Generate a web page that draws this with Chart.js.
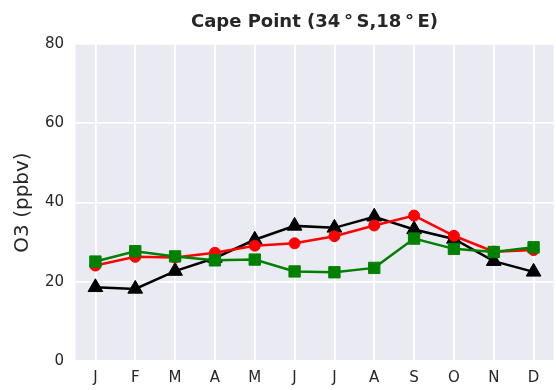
<!DOCTYPE html>
<html>
<head>
<meta charset="utf-8">
<script src="https://cdn.jsdelivr.net/npm/chart.js@4"></script>
<style>
  html, body { margin: 0; padding: 0; background: #ffffff; }
  #wrap { width: 556px; height: 390px; }
</style>
</head>
<body>
<div id="wrap"><canvas id="o3_chart" width="556" height="390"></canvas></div>
<script>
// monthly mean ozone at Cape Point, three records
const months = ["J", "F", "M", "A", "M", "J", "J", "A", "S", "O", "N", "D"];
const red_series = [24.1, 26.3, 26.1, 27.3, 29.1, 29.7, 31.5, 34.2, 36.7, 31.6, 27.6, 28.0];
const green_series = [25.1, 27.7, 26.4, 25.4, 25.6, 22.6, 22.4, 23.5, 30.9, 28.3, 27.5, 28.7];
const black_series = [18.6, 18.2, 22.7, 26.0, 30.6, 34.1, 33.6, 36.4, 33.2, 30.8, 25.2, 22.5];
const y_ticks = [0, 20, 40, 60, 80];
const chart_title = "Cape Point (34\u2009°\u2009S,18\u2009°\u2009E)";
const y_title = "O3 (ppbv)";

const text_color = "#262626";

// grey panel behind the grid, seaborn darkgrid look
const panel_plugin = {
    id: "panel",
    beforeDraw: function (chart) {
        let a = chart.chartArea;
        let ctx = chart.ctx;
        ctx.save();
        ctx.fillStyle = "#eaeaf2";
        ctx.fillRect(a.left, a.top, a.right - a.left, a.bottom - a.top);
        ctx.restore();
    },
    afterDraw: function (chart) {
        // title centred over the plot area, not the whole canvas
        let a = chart.chartArea;
        let ctx = chart.ctx;
        ctx.save();
        ctx.fillStyle = text_color;
        ctx.font = "bold 18px 'DejaVu Sans'";
        ctx.textAlign = "center";
        ctx.textBaseline = "alphabetic";
        ctx.fillText(chart_title, (a.left + a.right) / 2, 26.5);
        ctx.restore();
    }
};

function line_set(values, color, style, radius, order) {
    return {
        data: values,
        borderColor: color,
        backgroundColor: color,
        borderWidth: 2.5,
        pointStyle: style,
        pointRadius: radius,
        pointHoverRadius: radius,
        pointBorderWidth: 1,
        pointBorderColor: color,
        pointBackgroundColor: color,
        fill: false,
        tension: 0,
        order: order
    };
}

let data_set = [];
data_set.push(line_set(black_series, "#000000", "triangle", 8.5, 2));
data_set.push(line_set(red_series, "#ff0000", "circle", 5.5, 1));
data_set.push(line_set(green_series, "#008000", "rect", 8, 0));

let ctx = document.getElementById("o3_chart").getContext("2d");
new Chart(ctx, {
    type: "line",
    data: {
        labels: months,
        datasets: data_set
    },
    plugins: [panel_plugin],
    options: {
        responsive: false,
        animation: false,
        layout: {
            autoPadding: false,
            padding: { top: 44, right: 2.5, left: 0, bottom: 0 }
        },
        plugins: {
            legend: { display: false },
            tooltip: { enabled: false },
            title: { display: false }
        },
        scales: {
            x: {
                offset: true,
                grid: { color: "#ffffff", lineWidth: 1.8, drawTicks: false, offset: false },
                border: { display: false },
                ticks: {
                    color: text_color,
                    padding: 8,
                    maxRotation: 0,
                    autoSkip: false,
                    font: { family: "DejaVu Sans", size: 15 }
                },
                afterFit: function (scale) {
                    scale.height = 29;
                }
            },
            y: {
                min: 0,
                max: 80,
                afterBuildTicks: function (scale) {
                    scale.ticks = y_ticks.map(v => ({ value: v }));
                },
                grid: { color: "#ffffff", lineWidth: 1.8, drawTicks: false },
                border: { display: false },
                ticks: {
                    color: text_color,
                    padding: 11.5,
                    font: { family: "DejaVu Sans", size: 15 }
                },
                title: {
                    display: true,
                    text: y_title,
                    color: text_color,
                    padding: { top: 11, bottom: 0 },
                    font: { family: "DejaVu Sans", size: 20 }
                },
                afterFit: function (scale) { scale.width = 75.5; }
            }
        }
    }
});
</script>
</body>
</html>
